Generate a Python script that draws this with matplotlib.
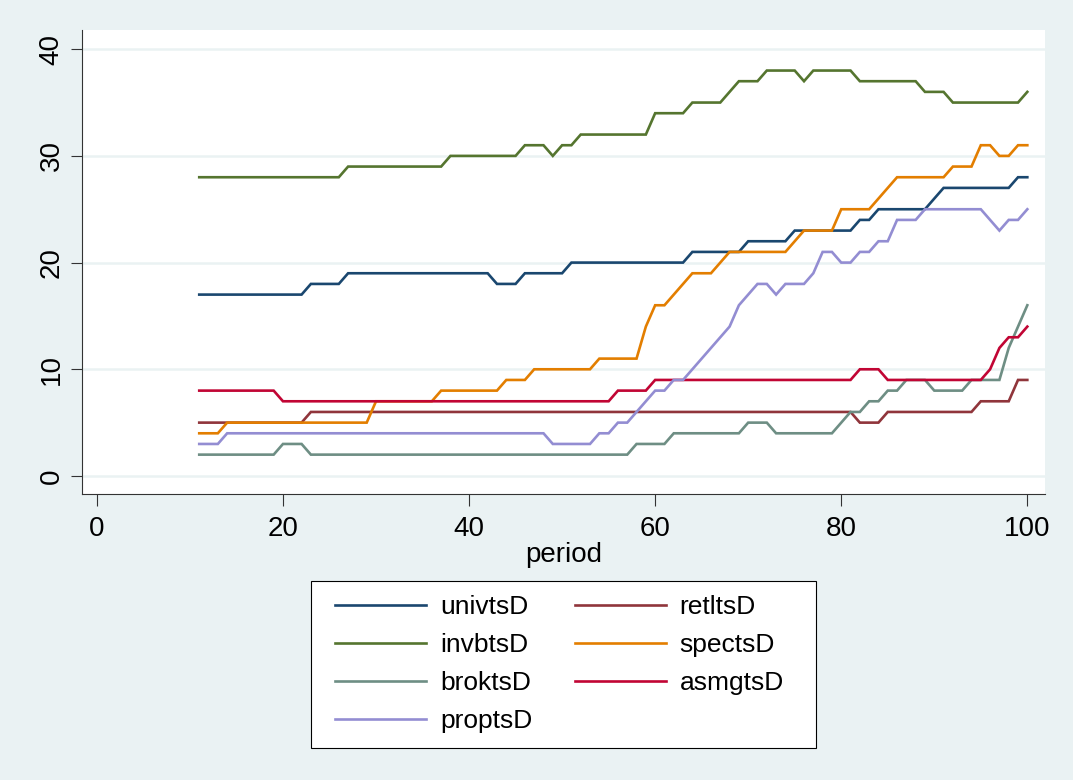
import matplotlib
matplotlib.use("Agg")
import matplotlib.pyplot as plt
from matplotlib.lines import Line2D
from matplotlib.patches import Rectangle

plt.rcParams['font.family'] = ['Liberation Sans', 'DejaVu Sans']

period = list(range(11, 101))

univtsD = [17, 17, 17, 17, 17, 17, 17, 17, 17, 17, 17, 17,
           18, 18, 18, 18,
           19, 19, 19, 19, 19, 19, 19, 19, 19, 19, 19, 19, 19, 19, 19, 19,
           18, 18, 18,
           19, 19, 19, 19, 19,
           20, 20, 20, 20, 20, 20, 20, 20, 20, 20, 20, 20, 20,
           21, 21, 21, 21, 21, 21,
           22, 22, 22, 22, 22,
           23, 23, 23, 23, 23, 23, 23,
           24, 24,
           25, 25, 25, 25, 25, 25,
           26,
           27, 27, 27, 27, 27, 27, 27, 27,
           28, 28]

retltsD = [5, 5, 5, 5, 5, 5, 5, 5, 5, 5, 5, 5,
           6, 6, 6, 6, 6, 6, 6, 6, 6, 6, 6, 6, 6, 6, 6, 6, 6, 6, 6, 6,
           6, 6, 6, 6, 6, 6, 6, 6, 6, 6, 6, 6, 6, 6, 6, 6, 6, 6, 6, 6,
           6, 6, 6, 6, 6, 6, 6, 6, 6, 6, 6, 6, 6, 6, 6, 6, 6, 6, 6,
           5, 5, 5,
           6, 6, 6, 6, 6, 6, 6, 6, 6, 6,
           7, 7, 7, 7,
           9, 9]

invbtsD = [28, 28, 28, 28, 28, 28, 28, 28, 28, 28, 28, 28, 28, 28, 28, 28,
           29, 29, 29, 29, 29, 29, 29, 29, 29, 29, 29,
           30, 30, 30, 30, 30, 30, 30, 30,
           31, 31, 31,
           30,
           31, 31,
           32, 32, 32, 32, 32, 32, 32, 32,
           34, 34, 34, 34,
           35, 35, 35, 35,
           36,
           37, 37, 37,
           38, 38, 38, 38,
           37,
           38, 38, 38, 38, 38,
           37, 37, 37, 37, 37, 37, 37,
           36, 36, 36,
           35, 35, 35, 35, 35, 35, 35, 35,
           36]

spectsD = [4, 4, 4,
           5, 5, 5, 5, 5, 5, 5, 5, 5, 5, 5, 5, 5, 5, 5, 5,
           7, 7, 7, 7, 7, 7, 7,
           8, 8, 8, 8, 8, 8, 8,
           9, 9, 9,
           10, 10, 10, 10, 10, 10, 10,
           11, 11, 11, 11, 11,
           14,
           16, 16,
           17,
           18,
           19, 19, 19,
           20,
           21, 21, 21, 21, 21, 21, 21,
           22,
           23, 23, 23, 23,
           25, 25, 25, 25,
           26,
           27,
           28, 28, 28, 28, 28, 28,
           29, 29, 29,
           31, 31,
           30, 30,
           31, 31]

broktsD = [2, 2, 2, 2, 2, 2, 2, 2, 2,
           3, 3, 3,
           2, 2, 2, 2, 2, 2, 2, 2, 2, 2, 2, 2, 2, 2, 2, 2, 2, 2, 2, 2,
           2, 2, 2, 2, 2, 2, 2, 2, 2, 2, 2, 2, 2, 2, 2,
           3, 3, 3, 3,
           4, 4, 4, 4, 4, 4, 4, 4,
           5, 5, 5,
           4, 4, 4, 4, 4, 4, 4,
           5,
           6, 6,
           7, 7,
           8, 8,
           9, 9, 9,
           8, 8, 8, 8,
           9, 9, 9, 9,
           12,
           14,
           16]

asmgtsD = [8, 8, 8, 8, 8, 8, 8, 8, 8,
           7, 7, 7, 7, 7, 7, 7, 7, 7, 7, 7, 7, 7, 7, 7, 7, 7, 7,
           7, 7, 7, 7, 7, 7, 7, 7, 7, 7, 7, 7, 7, 7, 7, 7, 7, 7,
           8, 8, 8, 8,
           9, 9, 9, 9, 9, 9, 9, 9, 9, 9, 9, 9, 9, 9, 9, 9, 9, 9, 9, 9, 9, 9,
           10, 10, 10,
           9, 9, 9, 9, 9, 9, 9, 9, 9, 9, 9,
           10,
           12,
           13, 13,
           14]

proptsD = [3, 3, 3,
           4, 4, 4, 4, 4, 4, 4, 4, 4, 4, 4, 4, 4, 4, 4, 4, 4, 4,
           4, 4, 4, 4, 4, 4, 4, 4, 4, 4, 4, 4, 4, 4, 4, 4, 4,
           3, 3, 3, 3, 3,
           4, 4,
           5, 5,
           6,
           7,
           8, 8,
           9, 9,
           10,
           11,
           12,
           13,
           14,
           16,
           17,
           18, 18,
           17,
           18, 18, 18,
           19,
           21, 21,
           20, 20,
           21, 21,
           22, 22,
           24, 24, 24,
           25, 25, 25, 25, 25, 25, 25,
           24,
           23,
           24, 24,
           25]

series_names = ["univtsD", "retltsD", "invbtsD", "spectsD", "broktsD", "asmgtsD", "proptsD"]
series_vals = [univtsD, retltsD, invbtsD, spectsD, broktsD, asmgtsD, proptsD]
colors = ["#1A476F", "#90353B", "#55752F", "#E37E00", "#6E8E84", "#C10534", "#938DD2"]

xticks = [0, 20, 40, 60, 80, 100]
yticks = [0, 10, 20, 30, 40]

BG = "#EAF2F3"
W, H = 1073, 780
fig = plt.figure(figsize=(W / 100, H / 100), dpi=100, facecolor=BG)

L, R, T, B = 82, 1045, 30, 494
ax = fig.add_axes([L / W, 1 - B / H, (R - L) / W, (B - T) / H])
ax.set_facecolor("white")

handles = {}
for name, vals, c in zip(series_names, series_vals, colors):
    ln, = ax.plot(period, vals, color=c, lw=1.9, solid_joinstyle='miter', zorder=3)
    handles[name] = ln

ax.set_xlim(-1.6, 101.9)
ax.set_ylim(-1.69, 41.8)
ax.set_xticks(xticks)
ax.set_yticks(yticks)
ax.set_xticklabels([str(v) for v in xticks], fontsize=20)
ax.set_yticklabels([str(v) for v in yticks], fontsize=20, rotation=90, va='center')
ax.tick_params(axis='x', length=8.5, width=0.8, color='#333333', pad=7)
ax.tick_params(axis='y', length=8, width=0.8, color='#333333', pad=4.5)
ax.yaxis.grid(True, color=BG, lw=1.8, zorder=0)
ax.set_axisbelow(True)
for s in ['top', 'right']:
    ax.spines[s].set_visible(False)
for s in ['left', 'bottom']:
    ax.spines[s].set_color('#333333')
    ax.spines[s].set_linewidth(0.8)
ax.set_xlabel("period", fontsize=20, labelpad=0)

# legend frame
fig.patches.append(Rectangle((311 / W, 1 - 748 / H), (816 - 311) / W, (748 - 581) / H,
                             transform=fig.transFigure, facecolor='white',
                             edgecolor='black', lw=0.8, zorder=1))

order = ["univtsD", "invbtsD", "broktsD", "proptsD", "retltsD", "spectsD", "asmgtsD"]
leg_handles = [Line2D([], [], color=handles[n].get_color(), lw=1.9) for n in order]
leg = fig.legend(leg_handles, order, loc='upper left',
                 bbox_to_anchor=(335 / W, 1 - 595 / H),
                 ncol=2, fontsize=19, frameon=False,
                 handlelength=3.45, handletextpad=0.53, labelspacing=0.53,
                 borderpad=0, columnspacing=1.6, borderaxespad=0)
leg.set_zorder(2)

fig.savefig("out.png", dpi=100, facecolor=BG)
